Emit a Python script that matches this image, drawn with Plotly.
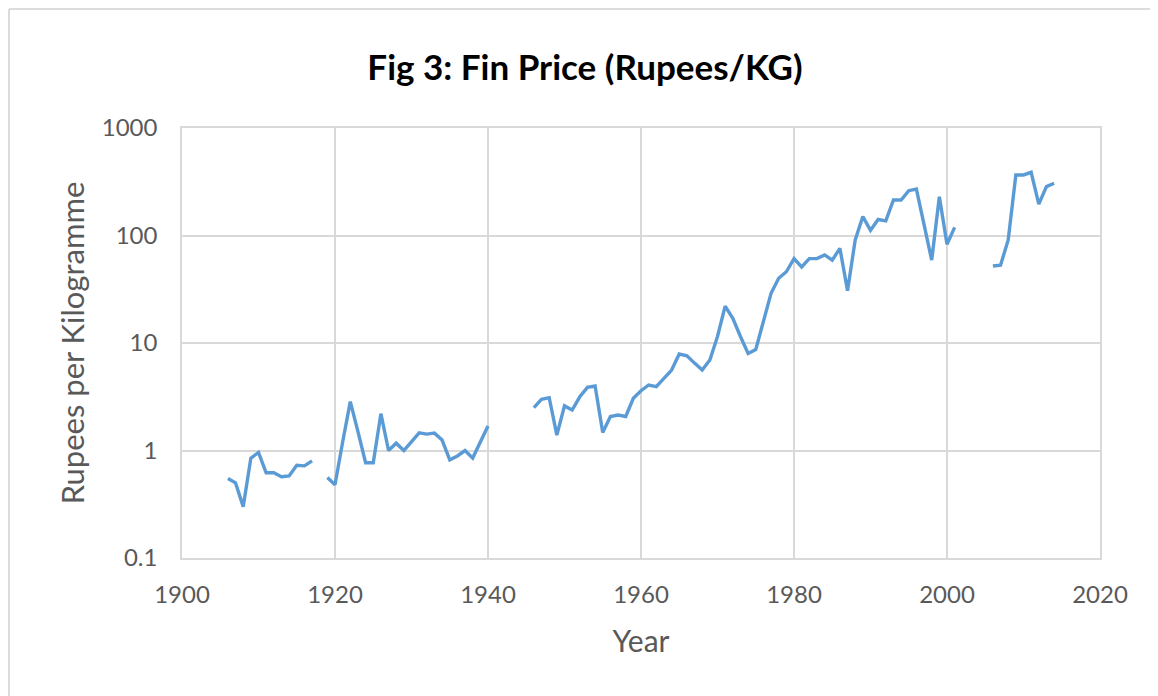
import plotly.graph_objects as go

years = list(range(1906, 2015))

seg1_years = list(range(1906, 1918))
seg1_vals = [0.55, 0.50, 0.30, 0.85, 0.96, 0.62, 0.62, 0.57, 0.58, 0.73, 0.72, 0.80]

seg2_years = list(range(1919, 1941))
seg2_vals = [0.56, 0.48, 1.2, 2.85, 1.5, 0.77, 0.77, 2.2, 1.0, 1.17, 1.0, 1.2,
             1.46, 1.42, 1.45, 1.25, 0.82, 0.89, 1.0, 0.85, 1.2, 1.69]

seg3_years = list(range(1946, 2002))
seg3_vals = [2.5, 3.0, 3.1, 1.39, 2.6, 2.38, 3.16, 3.87, 3.98, 1.47,
             2.07, 2.14, 2.07, 3.06, 3.6, 4.07, 3.93, 4.7, 5.6, 7.9,
             7.6, 6.5, 5.6, 6.95, 11.5, 22.0, 17.0, 11.5, 8.0, 8.7,
             16.0, 29.0, 40.0, 46.0, 61.0, 51.0, 61.0, 61.0, 66.0, 59.0,
             76.0, 30.6, 91.0, 150.0, 112.0, 141.0, 137.0, 214.0, 214.0, 261.0,
             270.0, 125.0, 59.0, 229.0, 83.0, 119.0]

seg4_years = list(range(2006, 2015))
seg4_vals = [52.0, 53.0, 91.0, 366.0, 366.0, 387.0, 196.0, 285.0, 306.0]

lookup = {}
for ys, vs in [(seg1_years, seg1_vals), (seg2_years, seg2_vals),
               (seg3_years, seg3_vals), (seg4_years, seg4_vals)]:
    for y, v in zip(ys, vs):
        lookup[y] = v
values = [lookup.get(y) for y in years]

x_ticks = [1900, 1920, 1940, 1960, 1980, 2000, 2020]
y_ticks = [0.1, 1, 10, 100, 1000]
y_tick_labels = ["0.1", "1", "10", "100", "1000"]

font_family = "Lato, Open Sans, sans-serif"
grey_text = "#595959"
grid = "#d9d9d9"

# the page body adds an 8px offset; margins compensate for it
fig = go.Figure()
fig.add_trace(go.Scatter(
    x=years, y=values, mode="lines", connectgaps=False,
    line=dict(color="#5b9bd5", width=3.4),
    showlegend=False, hoverinfo="x+y",
))

fig.update_layout(
    width=1158, height=696,
    paper_bgcolor="white", plot_bgcolor="white",
    margin=dict(l=174, r=66, t=120, b=146),
    title=dict(
        text="<b>Fig 3: Fin Price (Rupees/KG)</b>",
        x=(585 - 8) / 1158, xanchor="center", xref="container",
        y=1 - 60 / 696, yref="container", yanchor="middle",
        font=dict(family=font_family, size=35, color="#000000"),
    ),
    xaxis=dict(
        range=[1900, 2020], tickvals=x_ticks, ticktext=[str(t) for t in x_ticks],
        showgrid=True, gridcolor=grid, gridwidth=1.5, zeroline=False,
        showline=True, linecolor=grid, linewidth=1.5, mirror=True,
        ticks="", ticklabelstandoff=14,
        tickfont=dict(family=font_family, size=24, color=grey_text),
        title=dict(text="Year", font=dict(family=font_family, size=30, color=grey_text),
                   standoff=24),
    ),
    yaxis=dict(
        type="log", range=[-1, 3], tickvals=y_ticks, ticktext=y_tick_labels,
        showgrid=True, gridcolor=grid, gridwidth=1.5, zeroline=False,
        showline=True, linecolor=grid, linewidth=1.5, mirror=True,
        ticks="", ticklabelstandoff=18,
        tickfont=dict(family=font_family, size=24, color=grey_text),
        title=dict(text="Rupees per Kilogramme",
                   font=dict(family=font_family, size=31, color=grey_text),
                   standoff=8),
    ),
    shapes=[
        dict(type="line", xref="paper", yref="paper",
             x0=(9 - 182) / 918, x1=(1158 - 182) / 918,
             y0=(558 - 9) / 430, y1=(558 - 9) / 430,
             line=dict(color="#d0d0d0", width=1.5)),
        dict(type="line", xref="paper", yref="paper",
             x0=(9 - 182) / 918, x1=(9 - 182) / 918,
             y0=(558 - 9) / 430, y1=(558 - 696) / 430,
             line=dict(color="#d0d0d0", width=1.5)),
    ],
)

fig.write_html("out.html")
